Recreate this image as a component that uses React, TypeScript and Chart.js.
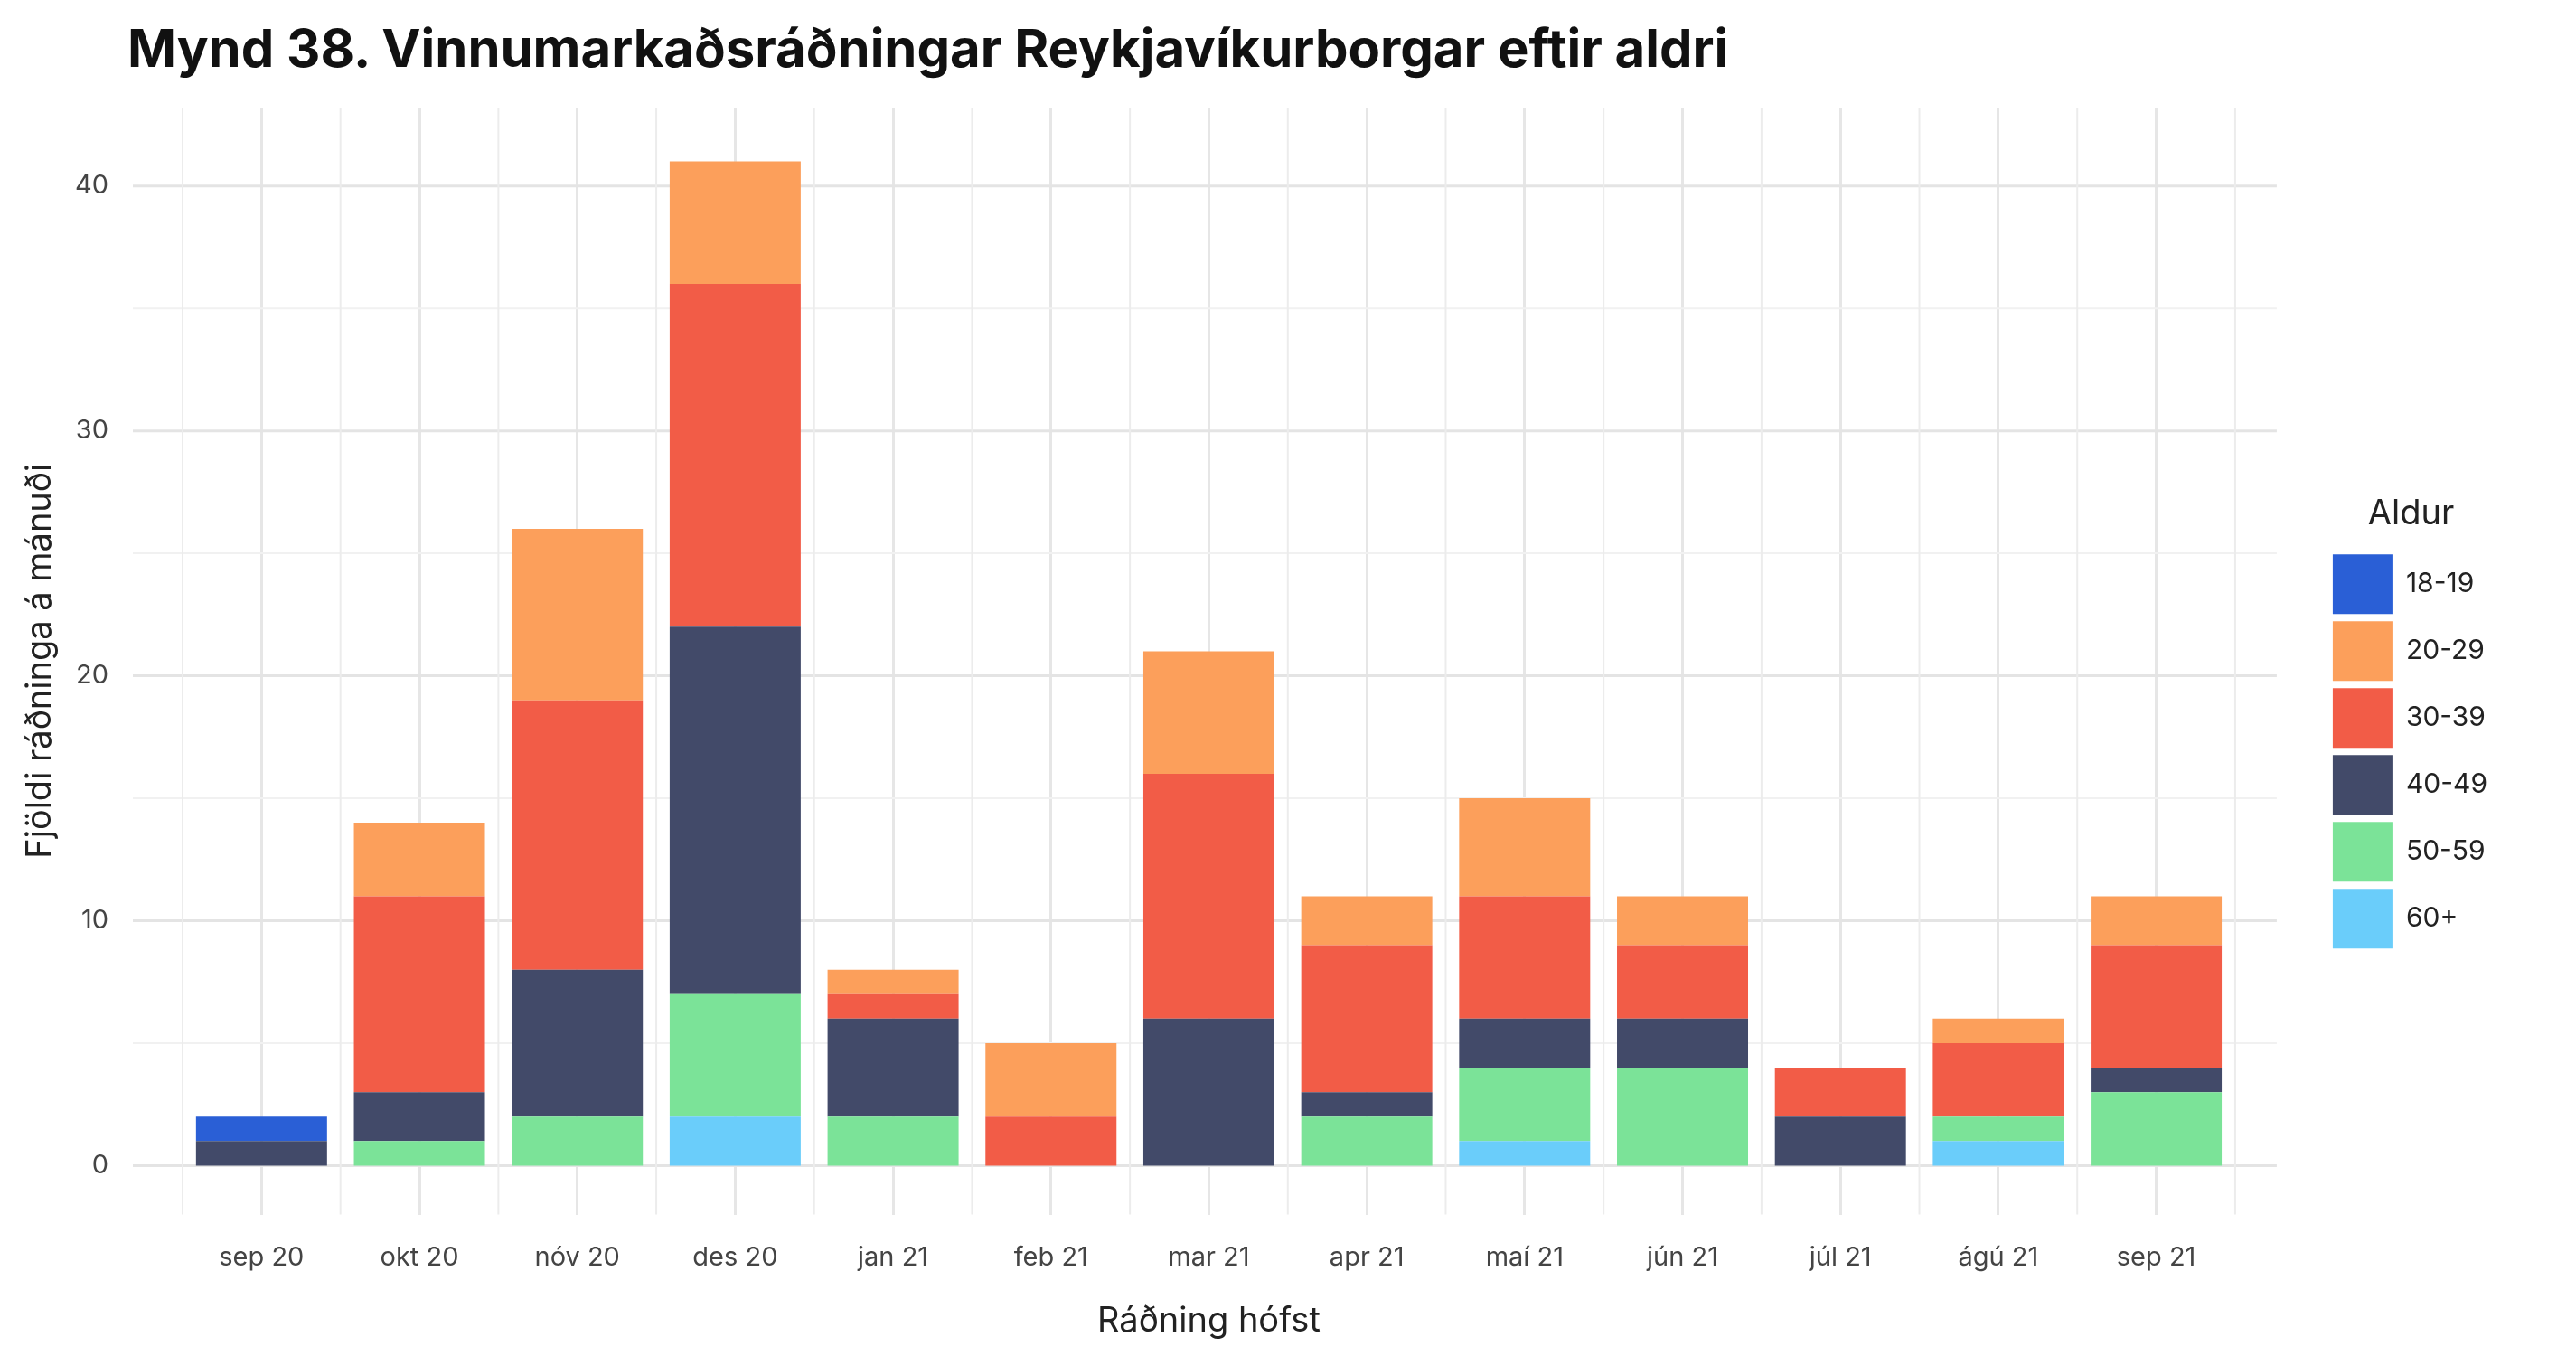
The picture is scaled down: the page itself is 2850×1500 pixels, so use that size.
import { useEffect, useRef } from "react";
import Chart from "chart.js/auto";

const months = ["sep 20", "okt 20", "nóv 20", "des 20", "jan 21", "feb 21", "mar 21", "apr 21", "maí 21", "jún 21", "júl 21", "ágú 21", "sep 21"];
const age60 = [0, 0, 0, 2, 0, 0, 0, 0, 1, 0, 0, 1, 0];
const age50 = [0, 1, 2, 5, 2, 0, 0, 2, 3, 4, 0, 1, 3];
const age40 = [1, 2, 6, 15, 4, 0, 6, 1, 2, 2, 2, 0, 1];
const age30 = [0, 8, 11, 14, 1, 2, 10, 6, 5, 3, 2, 3, 5];
const age20 = [0, 3, 7, 5, 1, 3, 5, 2, 4, 2, 0, 1, 2];
const age18 = [1, 0, 0, 0, 0, 0, 0, 0, 0, 0, 0, 0, 0];
const yTicks = [0, 5, 10, 15, 20, 25, 30, 35, 40];

const FONT = "Inter, 'Noto Sans', sans-serif";

// ggplot-style panel grid: horizontal lines run past the outer category lines,
// vertical lines sit both at category centres and between categories
const panelGrid = {
  id: "panelGrid",
  beforeDatasetsDraw(chart: any) {
    const { ctx, chartArea, scales } = chart;
    const x = scales.x;
    const y = scales.y;
    const left = chartArea.left - 55;
    const right = chartArea.right + 46;
    const step = x.getPixelForValue(1) - x.getPixelForValue(0);
    ctx.save();
    yTicks.forEach((v) => {
      const major = v % 10 === 0;
      ctx.strokeStyle = major ? "#e4e4e4" : "#f1f1f1";
      ctx.lineWidth = major ? 3 : 2;
      const py = y.getPixelForValue(v);
      ctx.beginPath();
      ctx.moveTo(left, py);
      ctx.lineTo(right, py);
      ctx.stroke();
    });
    ctx.strokeStyle = "#ececec";
    ctx.lineWidth = 2;
    for (let i = 0; i <= months.length; i++) {
      const px = x.getPixelForValue(0) + (i - 0.5) * step;
      ctx.beginPath();
      ctx.moveTo(px, chartArea.top);
      ctx.lineTo(px, chartArea.bottom);
      ctx.stroke();
    }
    ctx.restore();
  },
};

export default function App() {
  const canvasRef = useRef<HTMLCanvasElement>(null);

  useEffect(() => {
    if (!canvasRef.current) return;
    const mk = (label: string, data: number[], color: string) => ({
      label, data, backgroundColor: color, borderWidth: 0,
      categoryPercentage: 1, barPercentage: 0.83,
    });
    const chart = new Chart(canvasRef.current, {
      type: "bar",
      data: {
        labels: months,
        datasets: [
          mk("60+", age60, "#6acdfa"),
          mk("50-59", age50, "#7be398"),
          mk("40-49", age40, "#424a69"),
          mk("30-39", age30, "#f25c47"),
          mk("20-29", age20, "#fc9f5b"),
          mk("18-19", age18, "#2a5fd6"),
        ],
      },
      options: {
        animation: false,
        responsive: true,
        maintainAspectRatio: false,
        devicePixelRatio: 1,
        layout: { padding: { left: 10, right: 80, top: 111, bottom: 4 } },
        plugins: {
          legend: {
            position: "right",
            reverse: true,
            align: "center",
            title: { display: true, text: "Aldur", color: "#222", font: { family: FONT, size: 38 }, padding: { top: 0, bottom: 10 } },
            labels: {
              boxWidth: 66, boxHeight: 66, padding: 8, color: "#222",
              font: { family: FONT, size: 30 },
            },
          },
          tooltip: { enabled: false },
        },
        scales: {
          x: {
            stacked: true,
            grid: { color: "#e6e6e6", lineWidth: 3, offset: false, drawTicks: false },
            border: { display: false },
            ticks: { color: "#444", font: { family: FONT, size: 29 }, padding: 30 },
            title: { display: true, text: "Ráðning hófst", color: "#222", font: { family: FONT, size: 38 }, padding: { top: 0 } },
          },
          y: {
            stacked: true,
            min: -2,
            max: 43.2,
            afterBuildTicks: (axis: any) => {
              axis.ticks = yTicks.map((v) => ({ value: v }));
            },
            afterFit: (axis: any) => {
              axis.width = 184;
            },
            grid: { display: false },
            border: { display: false },
            ticks: {
              color: "#444", font: { family: FONT, size: 29 }, padding: 74,
              callback: (v: any) => (Number(v) % 10 === 0 ? String(v) : ""),
            },
            title: { display: true, text: "Fjöldi ráðninga á mánuði", color: "#222", font: { family: FONT, size: 38 } },
          },
          yRight: {
            position: "right",
            min: 0,
            max: 1,
            afterFit: (axis: any) => {
              axis.width = 100;
            },
            grid: { display: false },
            border: { display: false },
            ticks: { display: false },
          },
        },
      },
      plugins: [panelGrid],
    });
    return () => chart.destroy();
  }, []);

  return (
    <div style={{ position: "relative", width: 2834, height: 1484, background: "#fff" }}>
      <div
        style={{
          position: "absolute", left: 133, top: 10,
          fontFamily: FONT, fontWeight: 700, fontSize: 58, color: "#111", whiteSpace: "nowrap",
        }}
      >
        Mynd 38. Vinnumarkaðsráðningar Reykjavíkurborgar eftir aldri
      </div>
      <canvas ref={canvasRef} />
    </div>
  );
}
